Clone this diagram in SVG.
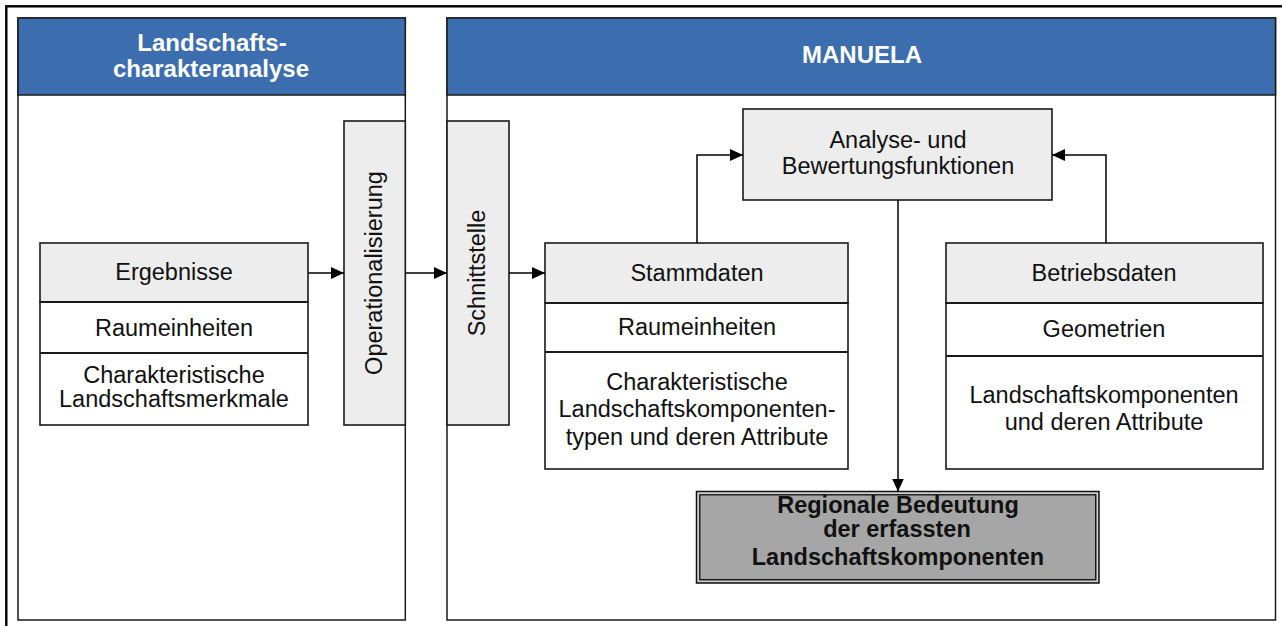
<svg xmlns="http://www.w3.org/2000/svg" width="1282" height="626" viewBox="0 0 1282 626">
<style>
.frame{fill:none;stroke:#000;stroke-width:2.4}
.panel{fill:#fff;stroke:#1a1a1a;stroke-width:1.5}
.head{fill:#3b6daf;stroke:#1a1a1a;stroke-width:1.5}
.gbox{fill:#ededed;stroke:#1a1a1a;stroke-width:1.6}
.wbox{fill:#fff;stroke:#1a1a1a;stroke-width:1.6}
.sep{stroke:#1a1a1a;stroke-width:2;fill:none}
.ht{font-family:"Liberation Sans",Arial,sans-serif;font-weight:bold;font-size:24px;fill:#fff;text-anchor:middle}
.t{font-family:"Liberation Sans",Arial,sans-serif;font-size:23.5px;fill:#111;text-anchor:middle}
.tb{font-family:"Liberation Sans",Arial,sans-serif;font-weight:bold;font-size:23.5px;fill:#111;text-anchor:middle}
.con{fill:none;stroke:#000;stroke-width:1.5}
</style>
<defs>
<marker id="arr" viewBox="0 0 13 12" refX="13" refY="6" markerWidth="13" markerHeight="12" markerUnits="userSpaceOnUse" orient="auto">
<path d="M0,0 L13,6 L0,12 Z" fill="#000"/>
</marker>
</defs>
<rect width="1282" height="626" fill="#fff"/>
<rect class="frame" x="6.3" y="6.3" width="1290" height="640"/>

<g id="panel-lca">
<rect class="panel" x="18" y="18" width="387.3" height="602"/>
<rect class="head" x="18" y="18" width="387.3" height="77"/>
<text class="ht" x="212" y="51">Landschafts-</text>
<text class="ht" x="211" y="77">charakteranalyse</text>
</g>

<g id="panel-manuela">
<rect class="panel" x="447" y="18" width="828.5" height="602"/>
<rect class="head" x="447" y="18" width="828.5" height="77"/>
<text class="ht" x="862" y="63">MANUELA</text>
</g>

<g id="ergebnisse">
<rect class="gbox" x="40" y="243" width="268" height="59"/>
<rect class="wbox" x="40" y="302" width="268" height="123"/>
<line class="sep" x1="40" y1="302" x2="308" y2="302"/>
<line class="sep" x1="40" y1="353" x2="308" y2="353"/>
<text class="t" x="174" y="280">Ergebnisse</text>
<text class="t" x="174" y="336">Raumeinheiten</text>
<text class="t" x="174" y="383">Charakteristische</text>
<text class="t" x="174" y="407">Landschaftsmerkmale</text>
</g>

<g id="operationalisierung">
<rect class="gbox" x="344" y="121" width="61.3" height="304"/>
<text class="t" transform="translate(382,273) rotate(-90)">Operationalisierung</text>
</g>

<g id="schnittstelle">
<rect class="gbox" x="447" y="121" width="62" height="304"/>
<text class="t" transform="translate(485,273) rotate(-90)">Schnittstelle</text>
</g>

<g id="stammdaten">
<rect class="gbox" x="545" y="243" width="303" height="60"/>
<rect class="wbox" x="545" y="303" width="303" height="166"/>
<line class="sep" x1="545" y1="303" x2="848" y2="303"/>
<line class="sep" x1="545" y1="352" x2="848" y2="352"/>
<text class="t" x="697" y="281">Stammdaten</text>
<text class="t" x="697" y="335">Raumeinheiten</text>
<text class="t" x="697" y="390">Charakteristische</text>
<text class="t" x="697" y="417">Landschaftskomponenten-</text>
<text class="t" x="697" y="445">typen und deren Attribute</text>
</g>

<g id="analyse">
<rect class="gbox" x="743" y="109" width="309" height="91"/>
<text class="t" x="898" y="148">Analyse- und</text>
<text class="t" x="898" y="174">Bewertungsfunktionen</text>
</g>

<g id="betriebsdaten">
<rect class="gbox" x="946" y="243" width="317" height="60"/>
<rect class="wbox" x="946" y="303" width="317" height="166"/>
<line class="sep" x1="946" y1="303" x2="1263" y2="303"/>
<line class="sep" x1="946" y1="356" x2="1263" y2="356"/>
<text class="t" x="1104" y="281">Betriebsdaten</text>
<text class="t" x="1104" y="337">Geometrien</text>
<text class="t" x="1104" y="403">Landschaftskomponenten</text>
<text class="t" x="1104" y="430">und deren Attribute</text>
</g>

<g id="regionale-bedeutung">
<rect x="696.5" y="491.5" width="402.5" height="91.5" fill="#a6a6a6" stroke="#111" stroke-width="1.5"/>
<rect x="698.2" y="493.2" width="399.1" height="88.1" fill="none" stroke="#d8d8d8" stroke-width="1.2"/>
<rect x="699.8" y="494.8" width="395.9" height="84.9" fill="none" stroke="#111" stroke-width="1.3"/>
<text class="tb" x="898" y="513">Regionale Bedeutung</text>
<text class="tb" x="897" y="537">der erfassten</text>
<text class="tb" x="898" y="565">Landschaftskomponenten</text>
</g>

<g id="connectors">
<path class="con" d="M308,273 H344" marker-end="url(#arr)"/>
<path class="con" d="M405.3,273 H447" marker-end="url(#arr)"/>
<path class="con" d="M509,273 H545" marker-end="url(#arr)"/>
<path class="con" d="M697,243 V155 H743" marker-end="url(#arr)"/>
<path class="con" d="M1106,243 V155 H1052" marker-end="url(#arr)"/>
<path class="con" d="M898,200 V491.5" marker-end="url(#arr)"/>
</g>
</svg>
